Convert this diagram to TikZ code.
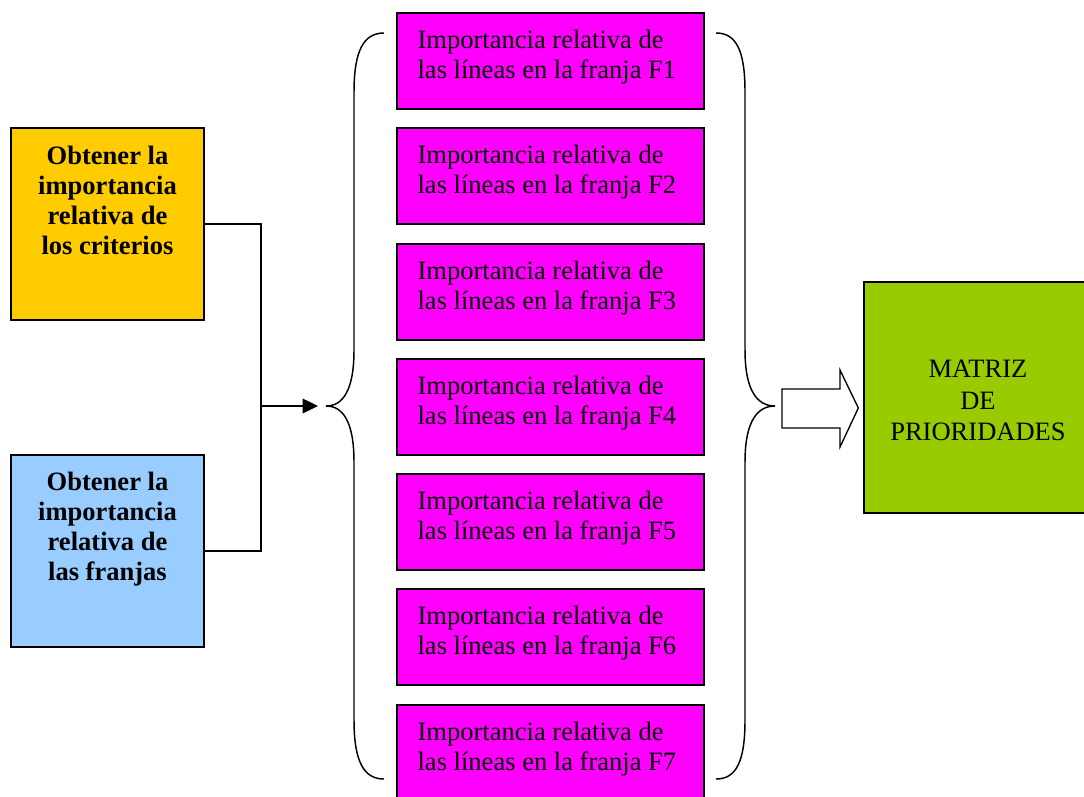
\documentclass[tikz,border=0pt]{standalone}
\usepackage{fontspec}
\setmainfont{Liberation Serif}
\usetikzlibrary{arrows.meta,calc}
\definecolor{gold}{HTML}{FFCC00}
\definecolor{sky}{HTML}{99CCFF}
\definecolor{fuchsia}{HTML}{FF00FF}
\definecolor{lime}{HTML}{99CC00}
\begin{document}
\begin{tikzpicture}[x=0.75pt,y=-0.75pt,
  box/.style={draw=black, line width=1pt, rectangle, inner sep=0pt},
  stepbox/.style={box, fill=fuchsia, minimum width=230.25pt, minimum height=72pt},
  srcbox/.style={box, minimum width=144.75pt, minimum height=144pt},
  body/.style={font=\fontsize{19.9}{23}\selectfont, inner sep=0pt, align=left},
  headtxt/.style={font=\fontsize{19.9}{22.5}\selectfont\bfseries, inner sep=0pt, align=center},
  wire/.style={draw=black, line width=1pt},
  brace/.style={draw=black, line width=1.1pt}]
\useasboundingbox (0,0) rectangle (1084,796);

% source boxes (text anchored on the baseline of its last line)
\node[srcbox, fill=gold] (crit) at (107.5,224) {};
\node[headtxt, anchor=base] (critt) at ($(crit.north)+(0,127)$)
  {Obtener la\\importancia\\relativa de\\los criterios};
\node[srcbox, fill=sky] (fran) at (107.5,551) {};
\node[headtxt, anchor=base] (frant) at ($(fran.north)+(0,126)$)
  {Obtener la\\importancia\\relativa de\\las franjas};

% one box per strip
\foreach \k/\cy in {1/61,2/176,3/292,4/407,5/522,6/637,7/753} {
  \node[stepbox] (f\k) at (550.5,\cy) {};
  \node[body, anchor=base west] (f\k t) at ($(f\k.north west)+(21,66.5)$)
    {Importancia relativa de\\las líneas en la franja F\k};
}

% result box
\node[box, fill=lime, minimum width=171pt, minimum height=173.25pt] (mat) at (978,397.5) {};
\node[font=\fontsize{19.9}{23.6}\selectfont, align=center, inner sep=0pt] (matt)
  at ($(mat.center)+(0,3)$) {MATRIZ\\DE\\PRIORIDADES};

% left brace
\coordinate (ltop) at (384,33);
\coordinate (ltip) at (326,406);
\coordinate (lbot) at (384,779);
\draw[brace] (ltop) .. controls (364,33) and (354,50) .. (354,92)
  -- (354,350) .. controls (354,392) and (342,406) .. (ltip)
  .. controls (342,406) and (354,420) .. (354,462)
  -- (354,720) .. controls (354,762) and (364,779) .. (lbot);

% right brace
\coordinate (rtop) at (716,33);
\coordinate (rtip) at (775,406);
\coordinate (rbot) at (716,779);
\draw[brace] (rtop) .. controls (736,33) and (745,50) .. (745,92)
  -- (745,350) .. controls (745,392) and (758,406) .. (rtip)
  .. controls (758,406) and (745,420) .. (745,462)
  -- (745,720) .. controls (745,762) and (736,779) .. (rbot);

% connectors from the source boxes into the brace
\coordinate (join) at (261,406);
\draw[wire] (crit.east) -| (join) |- (fran.east);
\draw[wire, -{Triangle[length=11.5pt,width=11pt]}] (join) -- ($(ltip)+(-8,0)$);

% hollow block arrow towards the result
\coordinate (ab) at (782,408);
\draw[line width=1pt, fill=white]
  ($(ab)+(0,-19)$) -- ($(ab)+(58,-19)$) -- ($(ab)+(58,-38)$)
  -- ($(mat.west)+(-5,10.5)$) -- ($(ab)+(58,39)$) -- ($(ab)+(58,20)$)
  -- ($(ab)+(0,20)$) -- cycle;
\end{tikzpicture}
\end{document}
